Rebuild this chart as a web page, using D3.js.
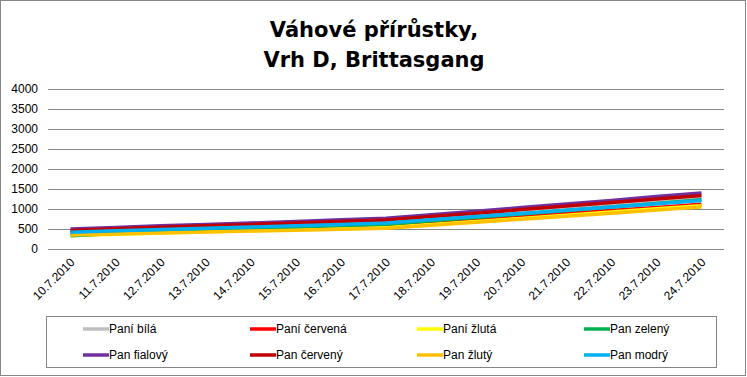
<!DOCTYPE html>
<html>
<head>
<meta charset="utf-8">
<script src="https://cdn.jsdelivr.net/npm/d3@7"></script>
<style>
body { margin: 0; background: #fff; }
svg { display: block; }
</style>
</head>
<body>
<svg id="plot" width="747" height="377"></svg>
<script>
// data
let dates = ["10.7.2010","11.7.2010","12.7.2010","13.7.2010","14.7.2010","15.7.2010","16.7.2010","17.7.2010",
  "18.7.2010","19.7.2010","20.7.2010","21.7.2010","22.7.2010","23.7.2010","24.7.2010"];
let yTicks = [0, 500, 1000, 1500, 2000, 2500, 3000, 3500, 4000];

let seriesNames = ["Paní bílá","Paní červená","Paní žlutá","Pan zelený","Pan fialový","Pan červený","Pan žlutý","Pan modrý"];
let seriesColors = ["#BFBFBF","#FF0000","#FFFF00","#00B050","#7030A0","#C00000","#FFC000","#00B0F0"];

let paniBila    = [455, 495, 530, 565, 600, 635, 675, 710, 790, 875, 960, 1045, 1130, 1210, 1295];
let paniCervena = [400, 430, 460, 490, 520, 550, 580, 610, 680, 750, 820, 890, 960, 1040, 1120];
let paniZluta   = [340, 370, 400, 430, 455, 480, 510, 540, 615, 690, 765, 845, 925, 1005, 1080];
let panZeleny   = [330, 390, 440, 480, 515, 550, 585, 620, 705, 790, 875, 960, 1050, 1140, 1230];
let panFialovy  = [500, 540, 580, 615, 650, 690, 730, 770, 855, 945, 1035, 1125, 1215, 1310, 1400];
let panCerveny  = [465, 505, 545, 580, 615, 650, 690, 725, 810, 895, 985, 1075, 1165, 1250, 1335];
let panZluty    = [350, 375, 400, 425, 450, 470, 495, 520, 595, 670, 745, 820, 895, 975, 1050];
let panModry    = [420, 455, 490, 520, 550, 580, 615, 650, 730, 810, 890, 970, 1050, 1130, 1210];

let seriesValues = [paniBila, paniCervena, paniZluta, panZeleny, panFialovy, panCerveny, panZluty, panModry];

let svg = d3.select("#plot");
let font = "'Liberation Sans', Arial, sans-serif";

// outer border
svg.append("rect").attr("x", 0.5).attr("y", 0.5).attr("width", 745).attr("height", 375)
  .attr("fill", "#fff").attr("stroke", "#868686");

// title
let title = svg.append("text").attr("text-anchor", "middle")
  .attr("font-family", "'DejaVu Sans', Verdana, sans-serif").attr("font-weight", "bold")
  .attr("font-size", 21).attr("fill", "#000");
title.append("tspan").attr("x", 374).attr("y", 37).text("Váhové přírůstky,");
title.append("tspan").attr("x", 374).attr("y", 67).text("Vrh D, Brittasgang");

// plot area
let plotLeft = 48, plotRight = 724, plotTop = 89, plotBottom = 249;

let x = d3.scaleBand().domain(dates).range([plotLeft, plotRight]);
let y = d3.scaleLinear().domain([0, 4000]).range([plotBottom, plotTop]);

// gridlines
svg.append("g").selectAll("line").data(yTicks).join("line")
  .attr("x1", plotLeft).attr("x2", plotRight)
  .attr("y1", d => Math.round(y(d)) + 0.5).attr("y2", d => Math.round(y(d)) + 0.5)
  .attr("stroke", "#868686").attr("stroke-width", 1);

// y axis labels
let yAxis = d3.axisLeft(y).tickValues(yTicks).tickFormat(d3.format("d")).tickSize(0).tickPadding(10);
let yAx = svg.append("g").attr("transform", `translate(${plotLeft},0)`).call(yAxis);
yAx.select(".domain").remove();
yAx.selectAll("text").attr("font-family", font).attr("font-size", 12).attr("fill", "#000");

// x axis labels
let xAxis = d3.axisBottom(x).tickSize(0);
let xAx = svg.append("g").attr("transform", `translate(0,${plotBottom})`).call(xAxis);
xAx.select(".domain").remove();
xAx.selectAll("text")
  .attr("font-family", font).attr("font-size", 12).attr("fill", "#000")
  .attr("text-anchor", "end")
  .attr("dy", 0).attr("y", 0)
  .attr("transform", "translate(5,14) rotate(-45)");

// lines
let line = d3.line().x((d, i) => x(dates[i]) + x.bandwidth() / 2).y(d => y(d));
svg.append("g").selectAll("path").data(seriesValues).join("path")
  .attr("d", d => line(d))
  .attr("fill", "none")
  .attr("stroke", (d, i) => seriesColors[i])
  .attr("stroke-width", 3.5)
  .attr("stroke-linejoin", "round");

// legend
svg.append("rect").attr("x", 46.5).attr("y", 316.5).attr("width", 670).attr("height", 51)
  .attr("fill", "#fff").attr("stroke", "#868686");
let legend = svg.append("g").selectAll("g").data(seriesNames).join("g")
  .attr("transform", (d, i) => `translate(${83 + (i % 4) * 167},${i < 4 ? 329 : 355})`);
legend.append("line").attr("x1", 0).attr("x2", 26).attr("y1", 0).attr("y2", 0)
  .attr("stroke", (d, i) => seriesColors[i]).attr("stroke-width", 3.5);
legend.append("text").attr("x", 26).attr("y", 4)
  .attr("font-family", font).attr("font-size", 12).attr("fill", "#000")
  .text(d => d);
</script>
</body>
</html>
